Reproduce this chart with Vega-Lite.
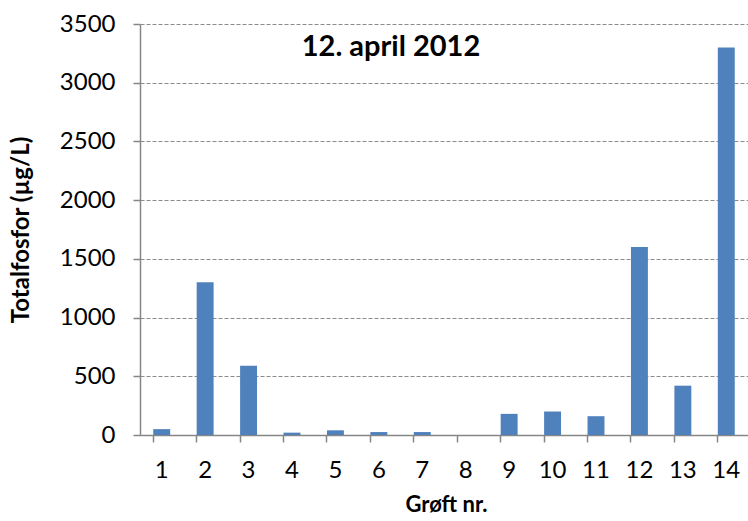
{
  "$schema": "https://vega.github.io/schema/vega-lite/v6.json",
  "width": 608,
  "height": 411,
  "autosize": "none",
  "padding": {"left": 140, "top": 24, "right": 0, "bottom": 86},
  "background": "white",
  "config": {
    "font": "Lato",
    "view": {"stroke": null}
  },
  "title": {
    "text": "12. april 2012",
    "orient": "top",
    "anchor": "middle",
    "frame": "group",
    "baseline": "middle",
    "offset": -37,
    "dx": -53,
    "dy": 27,
    "fontSize": 29,
    "fontWeight": "bold",
    "color": "black",
    "font": "Lato"
  },
  "data": {
    "values": [
      {"groeft": "1", "tp": 50},
      {"groeft": "2", "tp": 1300},
      {"groeft": "3", "tp": 590},
      {"groeft": "4", "tp": 20},
      {"groeft": "5", "tp": 40},
      {"groeft": "6", "tp": 25},
      {"groeft": "7", "tp": 25},
      {"groeft": "8", "tp": 0},
      {"groeft": "9", "tp": 180},
      {"groeft": "10", "tp": 200},
      {"groeft": "11", "tp": 160},
      {"groeft": "12", "tp": 1600},
      {"groeft": "13", "tp": 420},
      {"groeft": "14", "tp": 3300}
    ]
  },
  "mark": {"type": "bar", "color": "#4F81BD"},
  "encoding": {
    "x": {
      "field": "groeft",
      "type": "ordinal",
      "sort": null,
      "scale": {"paddingInner": 0.61, "paddingOuter": 0.305},
      "axis": {
        "title": "Grøft nr.",
        "titleFontSize": 22,
        "titleFontWeight": "bold",
        "titleColor": "black",
        "titlePadding": 12,
        "titleX": 306,
        "labelAngle": 0,
        "labelFontSize": 24,
        "labelColor": "black",
        "labelPadding": 16,
        "bandPosition": 0,
        "tickSize": 7,
        "tickColor": "#868686",
        "domainColor": "#868686",
        "domainWidth": 1.5,
        "tickWidth": 1.5,
        "grid": false
      }
    },
    "y": {
      "field": "tp",
      "type": "quantitative",
      "scale": {"domain": [0, 3500], "nice": false},
      "axis": {
        "title": "Totalfosfor (µg/L)",
        "titleFontSize": 24,
        "titleFontWeight": "bold",
        "titleColor": "black",
        "titlePadding": 26,
        "format": "d",
        "values": [0, 500, 1000, 1500, 2000, 2500, 3000, 3500],
        "labelFontSize": 24,
        "labelColor": "black",
        "labelPadding": 18,
        "tickSize": 7,
        "tickColor": "#868686",
        "domainColor": "#868686",
        "domainWidth": 1.5,
        "tickWidth": 1.5,
        "grid": true,
        "gridColor": "#8c8c8c",
        "gridDash": [4, 2],
        "gridWidth": 1
      }
    }
  }
}
